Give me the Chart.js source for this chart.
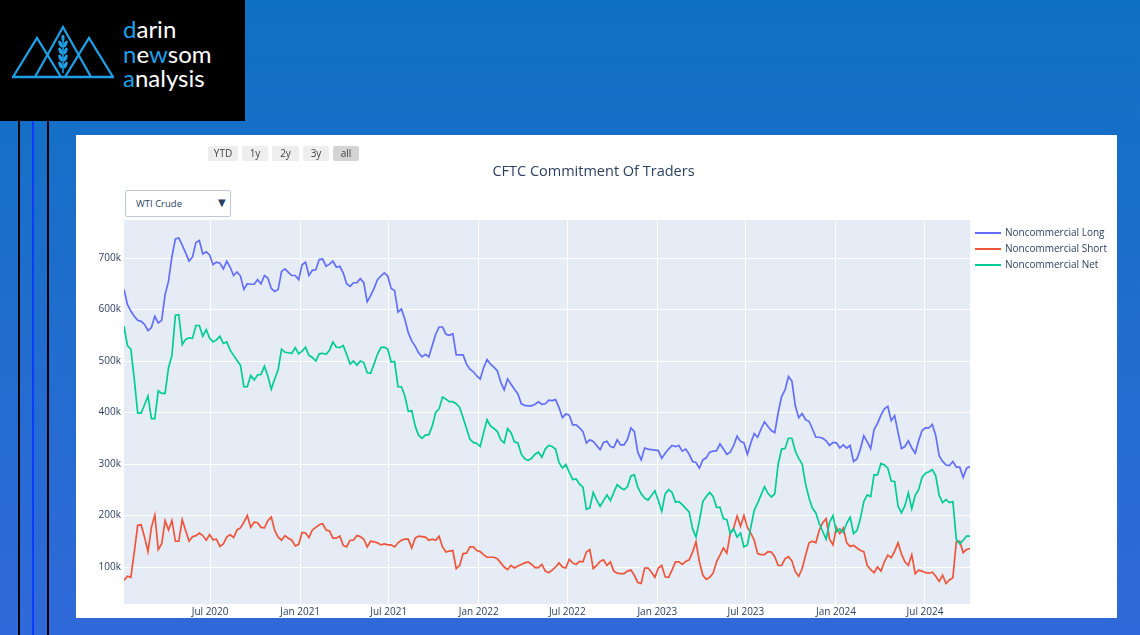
<!DOCTYPE html>
<html>
<head>
<meta charset="utf-8">
<script src="https://cdn.jsdelivr.net/npm/chart.js@4.4.1/dist/chart.umd.min.js"></script>
<style>
  html, body { margin:0; padding:0; }
  body { width:1140px; height:635px; overflow:hidden; position:relative;
         background: linear-gradient(180deg, #0f71c2 0%, #3069d9 100%);
         font-family: "Open Sans", "DejaVu Sans", sans-serif; }
  .abs { position:absolute; }
  #logo { left:0; top:0; width:245px; height:121px; background:#000; }
  #logoText { left:123px; top:17px; font-family: Lato, "Open Sans", sans-serif; font-size:24px; font-weight:400;
              line-height:24.6px; color:#fff; white-space:pre; }
  #logoText b { font-weight:400; color:#1e9fe6; }
  .vline { top:121px; height:514px; width:2px; }
  #panel { left:76px; top:135px; width:1041px; height:483px; background:#fff; }
  #chartWrap { left:0; top:0; width:1041px; height:483px; }
  .btn { top:146px; height:15px; background:#eeeeee; border-radius:2px; color:#444;
         font-size:10px; line-height:15px; text-align:center; }
  #title { left:76px; width:1035px; top:161px; text-align:center; font-size:14.5px; color:#2a3f5f; }
  #dropdown { left:125px; top:190px; width:106px; height:27px; border:1px solid #bec8d9;
              background:#fff; box-sizing:border-box; border-radius:2px; }
  #dropdown span.t { position:absolute; left:10px; top:6px; font-size:9.5px; color:#2a3f5f; }
  #dropdown span.a { position:absolute; left:92px; top:4px; font-size:10px; color:#2a3f5f; }
  .leg { left:975px; height:14px; font-size:10px; color:#2a3f5f; }
  .leg i { position:absolute; left:0; top:6px; width:26px; height:2px; }
  .leg span { position:absolute; left:30px; top:-1px; white-space:nowrap; }
</style>
</head>
<body>
<div id="logo" class="abs">
  <svg width="245" height="121" style="position:absolute;left:0;top:0">
    <g fill="none" stroke="#1e9fe6" stroke-width="2.3" stroke-linejoin="miter">
      <polyline points="13,77 37,38 61,77"/>
      <polyline points="35,77 63,27 91,77"/>
      <polyline points="65,77 89,38 113,77"/>
      <line x1="12" y1="77" x2="114" y2="77"/>
      <line x1="63" y1="36" x2="63" y2="73" stroke-width="1.6"/>
    </g>
    <g fill="#1e9fe6">
      <ellipse cx="63" cy="38" rx="1.6" ry="3.2"/>
      <ellipse cx="60.5" cy="44" rx="1.7" ry="3.6" transform="rotate(-25 60.5 44)"/>
      <ellipse cx="65.5" cy="44" rx="1.7" ry="3.6" transform="rotate(25 65.5 44)"/>
      <ellipse cx="60.5" cy="51" rx="1.7" ry="3.6" transform="rotate(-25 60.5 51)"/>
      <ellipse cx="65.5" cy="51" rx="1.7" ry="3.6" transform="rotate(25 65.5 51)"/>
      <ellipse cx="60.5" cy="58" rx="1.7" ry="3.6" transform="rotate(-25 60.5 58)"/>
      <ellipse cx="65.5" cy="58" rx="1.7" ry="3.6" transform="rotate(25 65.5 58)"/>
      <ellipse cx="60.5" cy="65" rx="1.7" ry="3.6" transform="rotate(-25 60.5 65)"/>
      <ellipse cx="65.5" cy="65" rx="1.7" ry="3.6" transform="rotate(25 65.5 65)"/>
    </g>
  </svg>
  <div id="logoText" class="abs"><b>d</b>arin
<b>n</b>e<b>w</b>som
<b>a</b>nalysis</div>
</div>
<div class="abs vline" style="left:18px;background:#000"></div>
<div class="abs vline" style="left:32px;background:#0a3cff"></div>
<div class="abs vline" style="left:47px;background:#000"></div>

<div id="panel" class="abs">
  <div id="chartWrap" class="abs"><canvas id="c"></canvas></div>
</div>

<div class="abs btn" style="left:208px;width:30px">YTD</div>
<div class="abs btn" style="left:242px;width:26px">1y</div>
<div class="abs btn" style="left:272px;width:27px">2y</div>
<div class="abs btn" style="left:303px;width:26px">3y</div>
<div class="abs btn" style="left:333px;width:26px;background:#d4d4d4">all</div>
<div id="title" class="abs">CFTC Commitment Of Traders</div>
<div id="dropdown" class="abs"><span class="t">WTI Crude</span><span class="a">&#9660;</span></div>

<div class="abs leg" style="top:226px"><i style="background:#636efa"></i><span>Noncommercial Long</span></div>
<div class="abs leg" style="top:242px"><i style="background:#ef553b"></i><span>Noncommercial Short</span></div>
<div class="abs leg" style="top:258px"><i style="background:#00cc96"></i><span>Noncommercial Net</span></div>

<script>
// Weekly report dates start here (one value per week)
const START_DATE = '2020-01-07';
// Values in thousands of contracts
const LONG = [639,610,597,587,579,577,571,559,565,587,574,579,629,655,703,737,739,725,710,694,
702,730,734,708,712,706,687,692,690,679,694,682,666,673,665,639,650,649,649,658,
650,666,661,641,635,639,674,679,672,666,666,658,687,692,666,676,677,697,698,684,
688,694,682,684,671,650,645,652,652,660,652,615,627,641,658,665,671,665,641,637,
595,601,581,555,539,529,516,508,513,508,530,552,566,566,552,550,553,512,512,512,
494,484,479,471,465,487,503,494,488,481,459,444,465,455,445,436,417,414,413,413,
416,421,416,417,424,
423,425,410,390,397,395,376,376,370,363,341,347,344,336,328,342,344,334,332,347,
337,337,348,370,363,323,308,331,329,328,327,326,311,321,329,336,334,336,325,329,
319,305,303,292,308,312,323,325,326,339,329,319,323,336,354,344,341,319,341,359,
352,368,382,373,365,361,400,431,444,470,461,413,390,398,386,383,368,352,352,350,
345,336,342,341,331,337,331,336,305,310,329,355,343,330,367,379,395,407,412,384,
394,361,330,334,345,331,321,345,365,370,370,377,355,316,305,298,297,305,294,294,
274,292,295];
const SHORT = [74,82,80,129,181,182,158,130,177,201,134,145,190,172,190,150,150,192,171,150,
159,161,166,161,152,163,153,154,140,145,158,163,157,172,176,187,200,177,187,186,
177,176,190,197,171,158,152,161,156,152,141,144,167,166,157,172,177,182,184,172,
170,156,156,160,142,139,152,152,161,159,154,139,150,149,147,143,145,143,143,139,
147,152,154,154,137,156,160,159,158,152,154,152,160,139,129,131,132,97,103,126,
127,139,139,132,130,124,119,119,119,116,108,100,95,103,98,102,105,108,110,105,
99,99,105,92,89,
94,100,108,100,98,115,108,105,111,110,129,134,97,103,111,114,103,110,92,88,
87,87,92,94,84,70,68,98,98,90,80,98,103,81,80,94,110,110,105,111,
114,129,149,110,84,76,80,88,110,123,137,127,165,176,199,179,200,177,166,152,
126,124,124,130,129,120,103,103,116,120,112,91,82,97,123,147,150,147,172,186,
194,154,143,177,165,176,147,140,142,137,132,130,103,95,89,100,92,110,123,118,
131,147,125,110,103,124,87,94,92,89,88,90,82,72,84,68,75,79,149,150,
128,134,136];
const NET = [568,530,523,465,399,399,415,432,388,388,442,437,437,487,511,589,590,532,542,545,
544,569,569,548,561,544,537,541,548,534,537,521,511,501,492,450,450,472,463,473,
474,490,471,445,465,483,523,517,516,515,526,514,519,527,511,507,500,514,515,513,
521,537,527,526,530,513,494,500,492,500,497,477,476,494,513,526,527,523,498,499,
450,450,432,402,404,374,356,350,356,357,374,400,407,430,426,421,421,417,410,390,
369,348,342,340,334,361,386,374,369,363,347,341,369,361,343,341,319,310,307,311,
319,323,313,329,336,
334,329,303,292,299,284,270,271,261,255,212,215,245,230,218,229,240,229,245,260,
254,250,256,277,279,255,242,234,230,239,248,229,208,242,250,245,226,227,221,214,
207,174,158,190,227,237,245,237,216,216,194,192,165,174,158,166,139,143,177,210,
224,240,256,243,236,242,300,329,330,350,350,325,311,300,261,234,214,205,184,169,
154,187,200,168,174,167,185,197,165,171,194,227,240,237,279,279,301,298,292,267,
266,218,205,219,244,213,239,250,274,282,285,289,277,239,225,231,225,227,154,145,
152,160,160];
const SERIES_NAMES = ['Noncommercial Long', 'Noncommercial Short', 'Noncommercial Net'];
const X_TICK_LABELS = ['Jul 2020','Jan 2021','Jul 2021','Jan 2022','Jul 2022','Jan 2023','Jul 2023','Jan 2024','Jul 2024'];
const X_TICK_DATES = ['2020-07-01','2021-01-01','2021-07-01','2022-01-01','2022-07-01','2023-01-01','2023-07-01','2024-01-01','2024-07-01'];
const Y_TICKS = [100,200,300,400,500,600,700];

const DAY = 86400000;
const t0 = Date.parse(START_DATE + 'T00:00:00Z');
const dates = LONG.map((_, i) => t0 + i * 7 * DAY);
const toPts = arr => arr.map((v, i) => ({ x: dates[i], y: v }));
const xTickVals = X_TICK_DATES.map(d => Date.parse(d + 'T00:00:00Z'));

const bgPlugin = {
  id: 'plotBg',
  beforeDraw(chart) {
    const { ctx, chartArea: a } = chart;
    ctx.save();
    ctx.fillStyle = '#e5ecf6';
    ctx.fillRect(a.left, a.top, a.right - a.left, a.bottom - a.top);
    ctx.restore();
  }
};

new Chart(document.getElementById('c'), {
  type: 'line',
  data: {
    datasets: [
      { label: SERIES_NAMES[0], data: toPts(LONG), borderColor: '#636efa', order: 3 },
      { label: SERIES_NAMES[1], data: toPts(SHORT), borderColor: '#ef553b', order: 2 },
      { label: SERIES_NAMES[2], data: toPts(NET), borderColor: '#00cc96', order: 1 }
    ]
  },
  options: {
    responsive: true,
    maintainAspectRatio: false,
    animation: false,
    layout: { padding: { top: 85, right: 147, left: 0, bottom: 0 } },
    elements: {
      line: { borderWidth: 1.7, tension: 0, fill: false },
      point: { radius: 0, hoverRadius: 0 }
    },
    plugins: { legend: { display: false }, title: { display: false }, tooltip: { enabled: false } },
    scales: {
      x: {
        type: 'linear',
        min: dates[0],
        max: dates[dates.length - 1],
        afterBuildTicks: s => { s.ticks = xTickVals.map(v => ({ value: v })); },
        afterFit: s => { s.height = 14; },
        grid: { color: '#ffffff', lineWidth: 1, drawTicks: false },
        border: { display: false },
        ticks: {
          autoSkip: false, maxRotation: 0, padding: 2,
          color: '#2a3f5f', font: { family: 'Open Sans', size: 10 },
          callback: (v, i) => X_TICK_LABELS[i]
        }
      },
      y: {
        type: 'linear',
        min: 28.2,
        max: 773.8,
        afterBuildTicks: s => { s.ticks = Y_TICKS.map(v => ({ value: v })); },
        afterFit: s => { s.width = 48; },
        grid: { color: '#ffffff', lineWidth: 1, drawTicks: false },
        border: { display: false },
        ticks: {
          padding: 3,
          color: '#2a3f5f', font: { family: 'Open Sans', size: 10 },
          callback: v => v + 'k'
        }
      }
    }
  },
  plugins: [bgPlugin]
});
</script>
</body>
</html>
